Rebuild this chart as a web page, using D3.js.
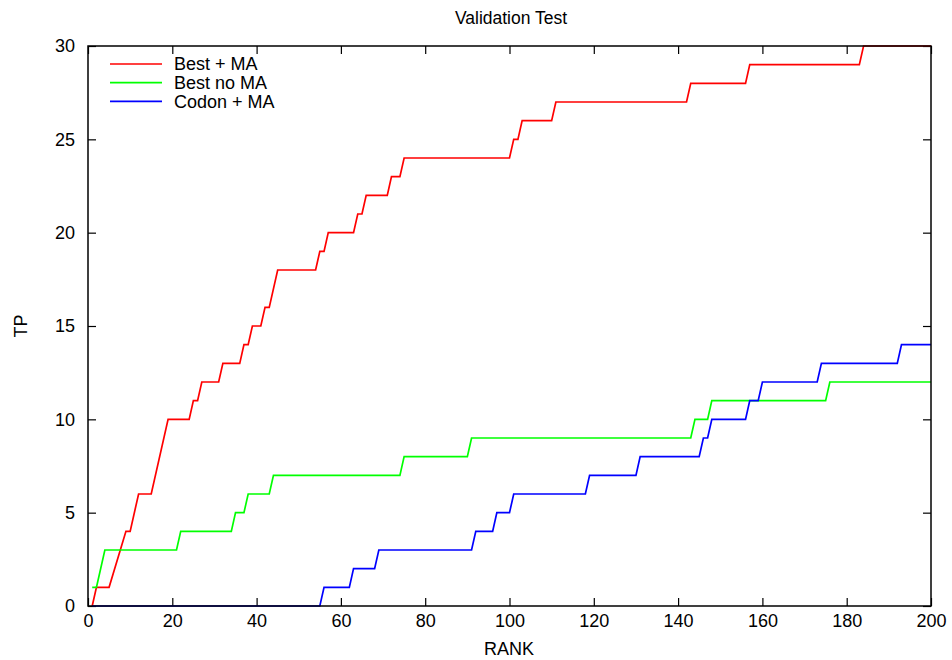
<!DOCTYPE html>
<meta charset="utf-8">
<style>
body { margin: 0; background: #fff; }
text { font-family: "Liberation Sans", Arial, sans-serif; fill: #000; }
.frame { fill: none; stroke: #000; stroke-width: 1.5px; }
.tick line { stroke: #000; stroke-width: 1.2px; }
.series { fill: none; stroke-width: 1.7px; }
</style>
<body>
<script src="https://cdn.jsdelivr.net/npm/d3@7"></script>
<script>

var width = 952,
    height = 660;

var margin = {top: 46, right: 21, bottom: 54, left: 88};

// (rank, TP) vertices
var bestMaRank = [1,2,5,9,10,12,15,19,24,25,26,27,31,32,36,37,38,39,41,42,43,45,54,55,56,57,63,64,65,66,71,72,74,75,100,101,102,103,110,111,142,143,156,157,183,184,200];
var bestMaTP   = [0,1,1,4,4,6,6,10,10,11,11,12,12,13,13,14,14,15,15,16,16,18,18,19,19,20,20,21,21,22,22,23,23,24,24,25,25,26,26,27,27,28,28,29,29,30,30];

var bestNoMaRank = [1,2,4,21,22,34,35,37,38,43,44,74,75,90,91,143,144,147,148,175,176,200];
var bestNoMaTP   = [1,1,3,3,4,4,5,5,6,6,7,7,8,8,9,9,10,10,11,11,12,12];

var codonMaRank = [1,55,56,62,63,68,69,91,92,96,97,100,101,118,119,130,131,145,146,147,148,156,157,159,160,173,174,192,193,200];
var codonMaTP   = [0,0,1,1,2,2,3,3,4,4,5,5,6,6,7,7,8,8,9,9,10,10,11,11,12,12,13,13,14,14];

var seriesNames = ["Best + MA", "Best no MA", "Codon + MA"];
var seriesColors = ["#ff0000", "#00ff00", "#0000ff"];
var xTicks = [0,20,40,60,80,100,120,140,160,180,200];
var yTicks = [0,5,10,15,20,25,30];

var series = [
  {name: seriesNames[0], color: seriesColors[0], rank: bestMaRank, tp: bestMaTP},
  {name: seriesNames[1], color: seriesColors[1], rank: bestNoMaRank, tp: bestNoMaTP},
  {name: seriesNames[2], color: seriesColors[2], rank: codonMaRank, tp: codonMaTP}
];

var svg = d3.select("body").append("svg")
    .attr("width", width)
    .attr("height", height);

var x = d3.scaleLinear().domain([0, 200]).range([margin.left, width - margin.right]);
var y = d3.scaleLinear().domain([0, 30]).range([height - margin.bottom, margin.top]);

// axes, ticks pointing inward and mirrored on the opposite side
svg.append("g")
    .attr("transform", "translate(0," + y(0) + ")")
    .call(d3.axisBottom(x).tickValues(xTicks).tickSizeInner(-8).tickSizeOuter(0).tickPadding(8))
    .call(function(g) { g.select(".domain").remove(); })
    .selectAll("text").style("font-size", "18px");

svg.append("g")
    .attr("transform", "translate(0," + y(30) + ")")
    .call(d3.axisTop(x).tickValues(xTicks).tickSizeInner(-8).tickSizeOuter(0).tickFormat(""))
    .call(function(g) { g.select(".domain").remove(); });

svg.append("g")
    .attr("transform", "translate(" + x(0) + ",0)")
    .call(d3.axisLeft(y).tickValues(yTicks).tickSizeInner(-8).tickSizeOuter(0).tickPadding(13))
    .call(function(g) { g.select(".domain").remove(); })
    .selectAll("text").style("font-size", "18px");

svg.append("g")
    .attr("transform", "translate(" + x(200) + ",0)")
    .call(d3.axisRight(y).tickValues(yTicks).tickSizeInner(-8).tickSizeOuter(0).tickFormat(""))
    .call(function(g) { g.select(".domain").remove(); });

var line = d3.line()
    .x(function(d) { return x(d[0]); })
    .y(function(d) { return y(d[1]); });

svg.append("g").selectAll("path")
    .data(series)
  .enter().append("path")
    .attr("class", "series")
    .attr("stroke", function(d) { return d.color; })
    .attr("d", function(d) { return line(d3.zip(d.rank, d.tp)); });

svg.append("rect")
    .attr("class", "frame")
    .attr("x", x(0))
    .attr("y", y(30))
    .attr("width", x(200) - x(0))
    .attr("height", y(0) - y(30));

// legend
var legend = svg.append("g").selectAll("g")
    .data(series)
  .enter().append("g")
    .attr("transform", function(d, i) { return "translate(110," + (64 + i * 18.7) + ")"; });

legend.append("line")
    .attr("x1", 0).attr("x2", 52)
    .attr("stroke", function(d) { return d.color; })
    .attr("stroke-width", 1.7);

legend.append("text")
    .attr("x", 64)
    .attr("dy", "0.36em")
    .style("font-size", "18px")
    .text(function(d) { return d.name; });

svg.append("text")
    .attr("x", 511).attr("y", 24)
    .attr("text-anchor", "middle")
    .style("font-size", "17.5px")
    .text("Validation Test");

svg.append("text")
    .attr("x", 509).attr("y", 655)
    .attr("text-anchor", "middle")
    .style("font-size", "18px")
    .text("RANK");

svg.append("text")
    .attr("transform", "translate(27,326) rotate(-90)")
    .attr("text-anchor", "middle")
    .style("font-size", "18px")
    .text("TP");

</script>
</body>
